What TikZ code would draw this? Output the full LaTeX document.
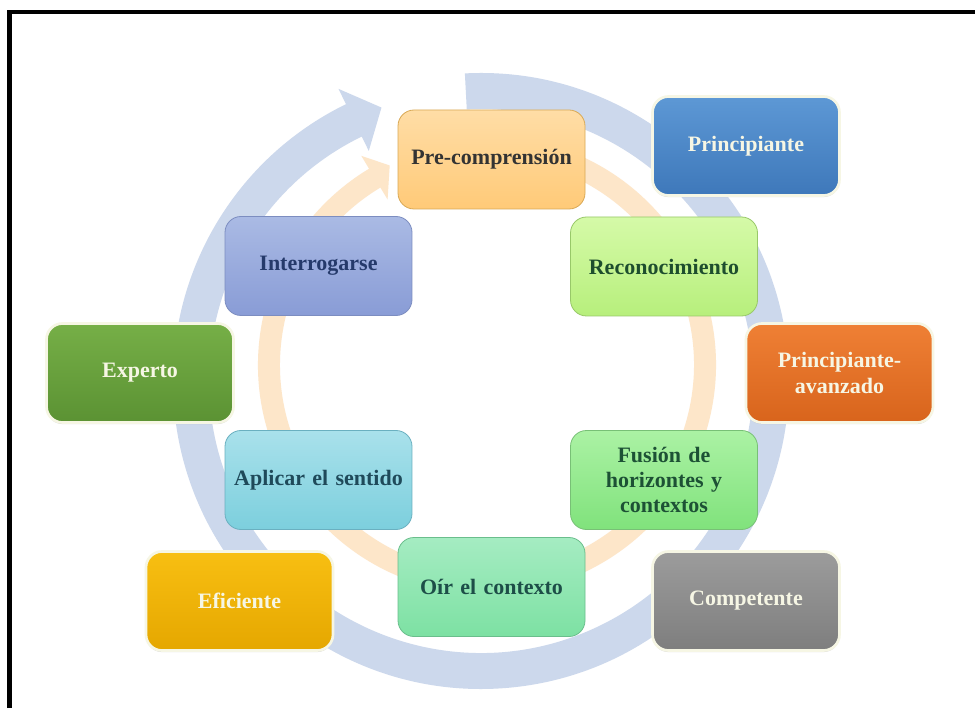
\documentclass[tikz,border=0pt]{standalone}
\usepackage{fontspec}
\setmainfont{Liberation Serif}
\usetikzlibrary{shadows}
\definecolor{ringblue}{HTML}{CCD8EC}
\definecolor{ringorange}{HTML}{FDE6C9}
\definecolor{cream}{HTML}{F6F6E4}
% inner boxes
\definecolor{preT}{HTML}{FFDDA6}\definecolor{preB}{HTML}{FFCA78}\definecolor{preD}{HTML}{D9A955}\definecolor{preX}{HTML}{333333}
\definecolor{intT}{HTML}{AABAE4}\definecolor{intB}{HTML}{899CD6}\definecolor{intD}{HTML}{7C8DC0}\definecolor{intX}{HTML}{253A6B}
\definecolor{recT}{HTML}{D5FAA8}\definecolor{recB}{HTML}{B7EF7C}\definecolor{recD}{HTML}{98C869}\definecolor{recX}{HTML}{1E4E2E}
\definecolor{aplT}{HTML}{A9E1EB}\definecolor{aplB}{HTML}{7CCFDD}\definecolor{aplD}{HTML}{6AB0C0}\definecolor{aplX}{HTML}{1F4A5A}
\definecolor{fusT}{HTML}{ABF2A4}\definecolor{fusB}{HTML}{80E27C}\definecolor{fusD}{HTML}{78C076}\definecolor{fusX}{HTML}{1D5135}
\definecolor{oirT}{HTML}{A5ECC2}\definecolor{oirB}{HTML}{7DE1A3}\definecolor{oirD}{HTML}{6ABE8C}\definecolor{oirX}{HTML}{1D4E48}
% outer boxes
\definecolor{priT}{HTML}{5D98D5}\definecolor{priB}{HTML}{3E78BA}
\definecolor{avaT}{HTML}{EF8035}\definecolor{avaB}{HTML}{D8641C}
\definecolor{comT}{HTML}{9C9C9C}\definecolor{comB}{HTML}{7E7E7E}
\definecolor{efiT}{HTML}{F8BF12}\definecolor{efiB}{HTML}{E5A700}
\definecolor{expT}{HTML}{76AF47}\definecolor{expB}{HTML}{5B9233}
\begin{document}
\begin{tikzpicture}[x=0.75pt,y=0.75pt,
  box/.style={rounded corners=12pt, minimum width=140.25pt, minimum height=74.25pt,
    align=center, text width=136pt, inner sep=0pt,
    font=\fontsize{16.5}{19}\selectfont\bfseries},
  inbox/.style={box, line width=0.6pt},
  outbox/.style={box, draw=cream, line width=2pt, text=cream,
    drop shadow={opacity=0.3, shadow xshift=0pt, shadow yshift=-1.2pt}},
]
\useasboundingbox (0,0) rectangle (975,708);
\fill[white] (0,0) rectangle (975,708);
% frame
\draw[line width=3.4pt] (9.5,0) -- (9.5,696) -- (975,696);
% blue ring with arrow
\fill[ringblue, shift={(481,327)}]
  (93:308) arc[start angle=93, end angle=-244, radius=308]
  -- (-244:325) -- (-250:291) -- (-244:256) -- (-244:272)
  arc[start angle=-244, end angle=93, radius=272] -- cycle;
% orange ring with arrow
\fill[ringorange, shift={(487,343)}]
  (75:229) arc[start angle=75, end angle=-239, radius=229]
  -- (-239:244) -- (-244:222) -- (-239:193) -- (-239:207)
  arc[start angle=-239, end angle=75, radius=207] -- cycle;
% inner boxes
\node[inbox, draw=preD, top color=preT, bottom color=preB, text=preX] (pre) at (491.5,548.5) {Pre-comprensión};
\node[inbox, draw=intD, top color=intT, bottom color=intB, text=intX] (int) at (318.5,442) {Interrogarse};
\node[inbox, draw=recD, top color=recT, bottom color=recB, text=recX] (rec) at (664,441.5) {Reconocimiento};
\node[inbox, draw=aplD, top color=aplT, bottom color=aplB, text=aplX] (apl) at (318.5,228) {Aplicar el sentido};
\node[inbox, draw=fusD, top color=fusT, bottom color=fusB, text=fusX] (fus) at (664,228) {Fusión de\\horizontes y\\contextos};
\node[inbox, draw=oirD, top color=oirT, bottom color=oirB, text=oirX] (oir) at (491.5,121) {Oír el contexto};
% outer boxes
\node[outbox, top color=priT, bottom color=priB] (pri) at (746,562) {Principiante};
\node[outbox, top color=avaT, bottom color=avaB] (ava) at (839.5,335) {Principiante-\\avanzado};
\node[outbox, top color=comT, bottom color=comB] (com) at (746,107) {Competente};
\node[outbox, top color=efiT, bottom color=efiB] (efi) at (239.5,107) {Eficiente};
\node[outbox, top color=expT, bottom color=expB] (exp) at (140,335) {Experto};
\end{tikzpicture}
\end{document}
